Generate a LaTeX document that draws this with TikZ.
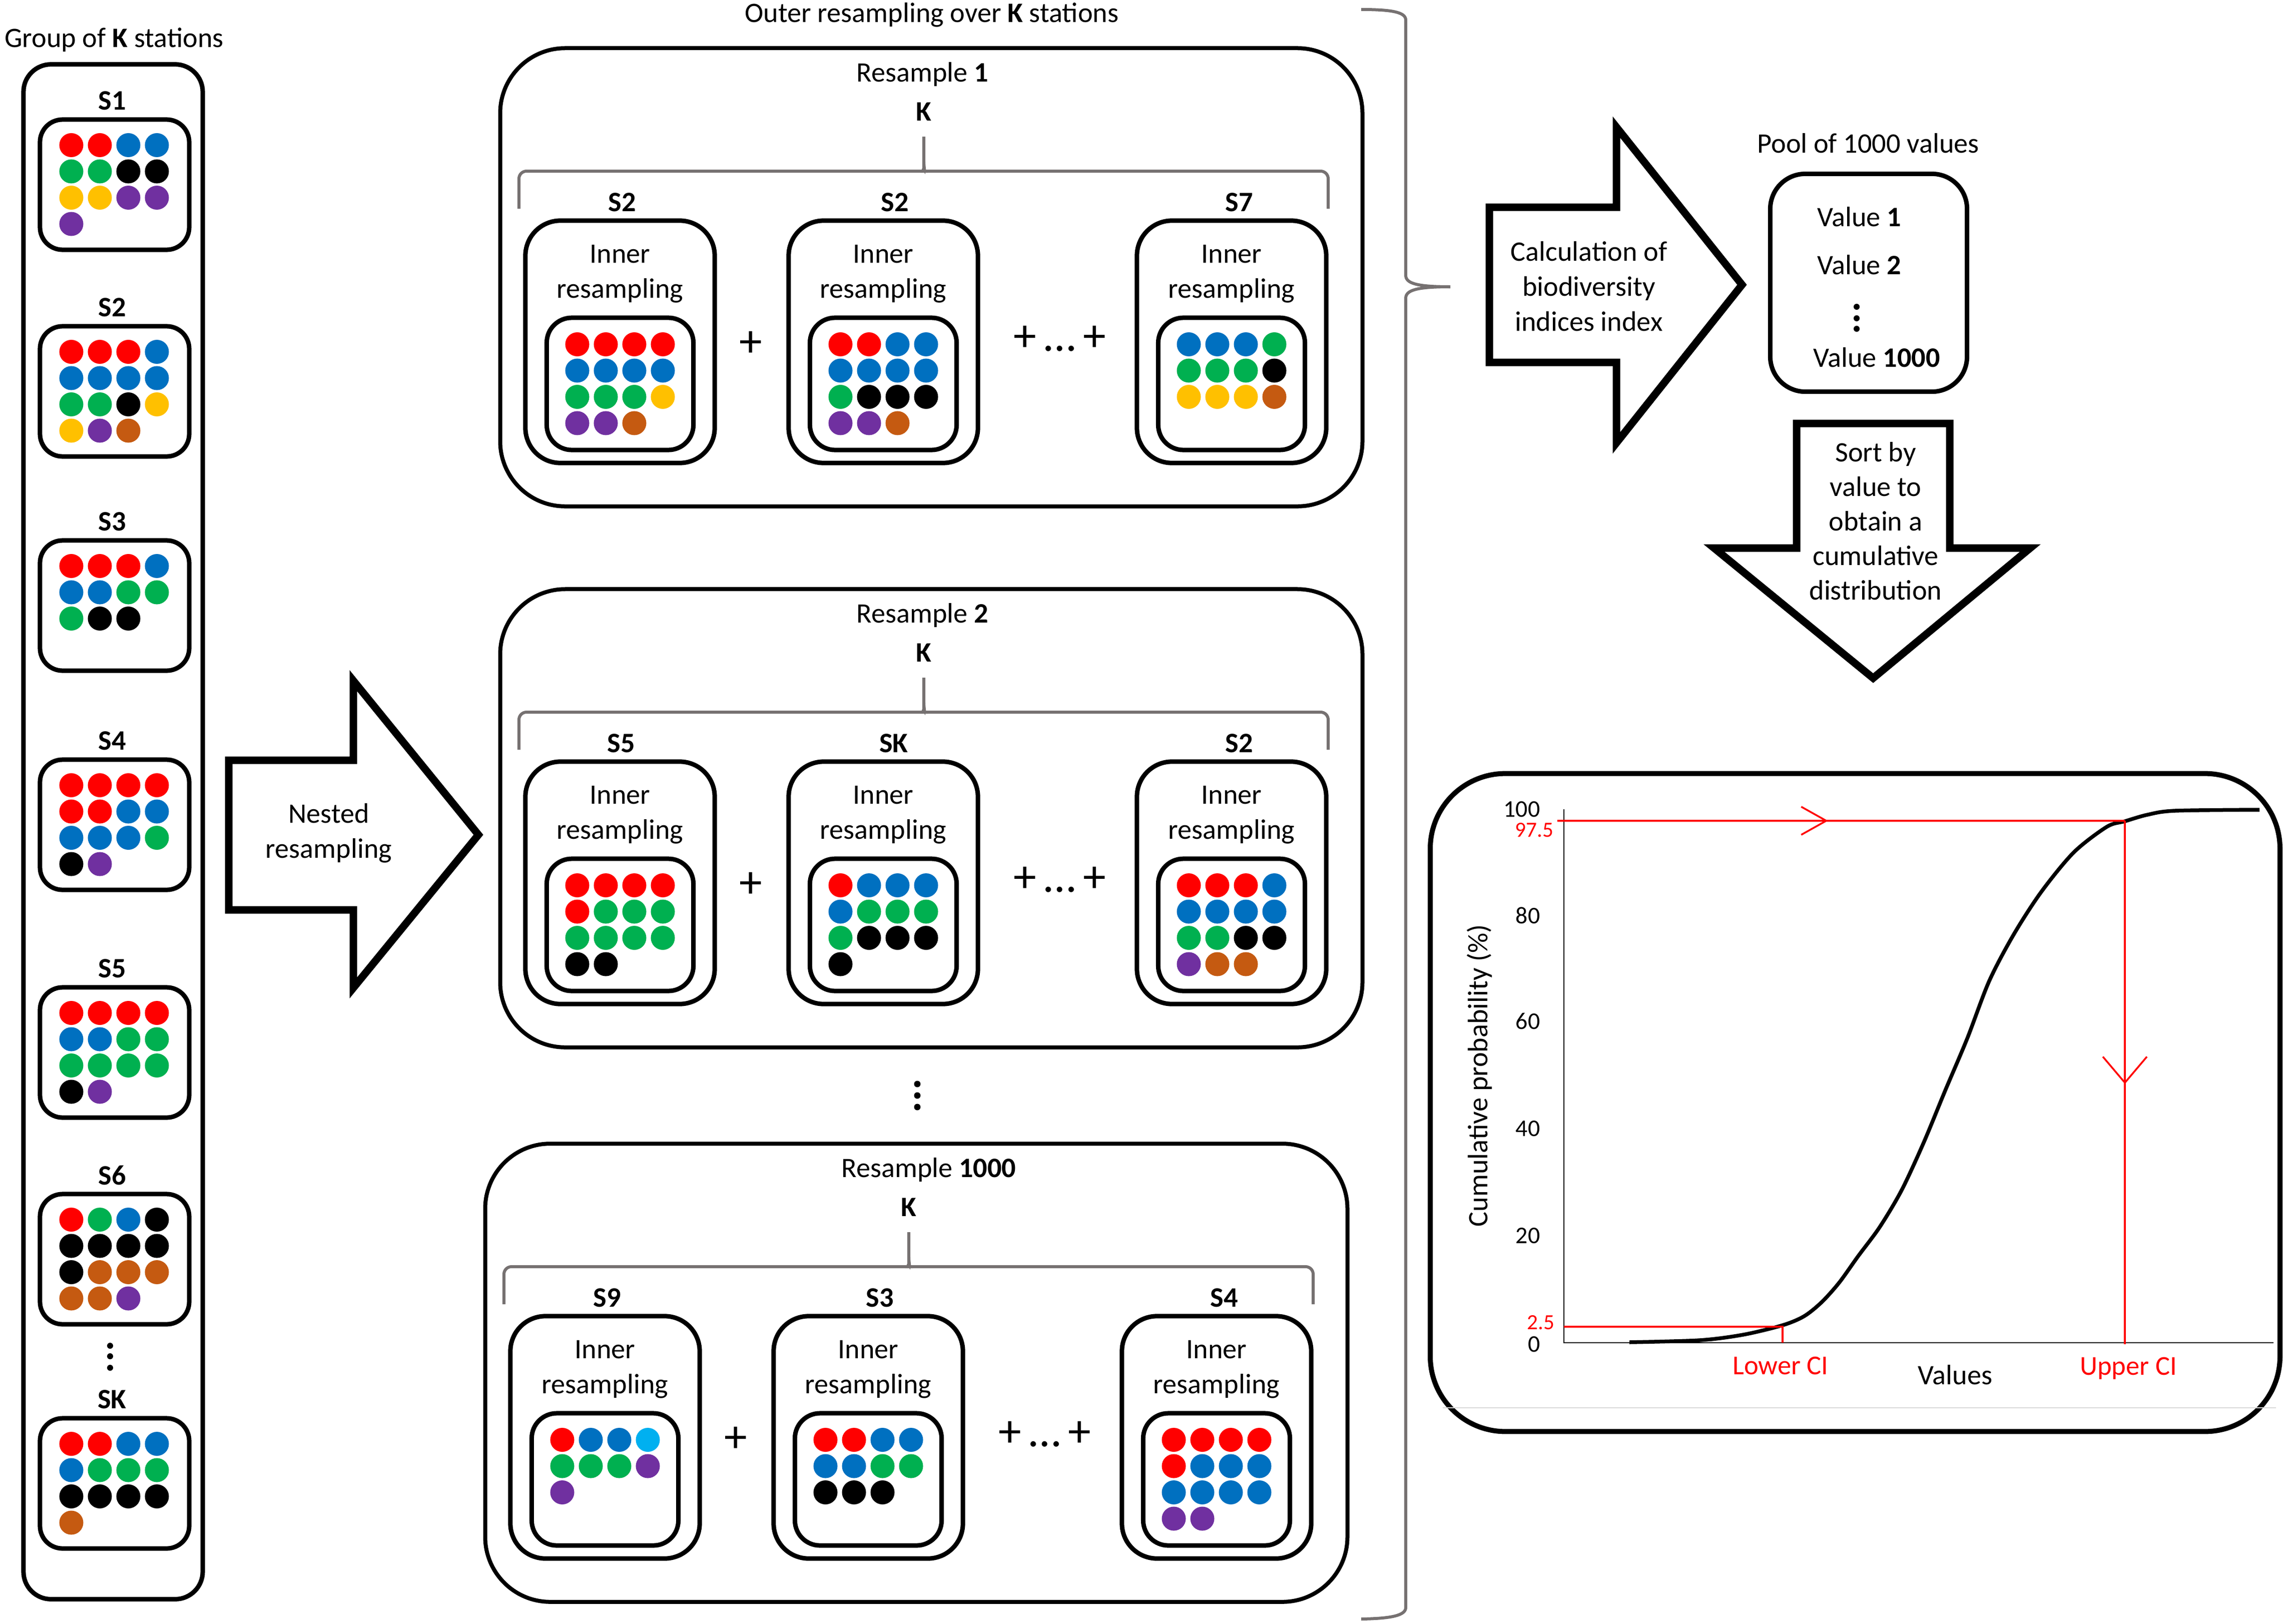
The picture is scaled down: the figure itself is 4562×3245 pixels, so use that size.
\documentclass[tikz,border=0pt]{standalone}
\usepackage{fontspec}
\setmainfont{Carlito}
\usetikzlibrary{arrows.meta,decorations.markings}

\definecolor{cR}{RGB}{255,0,0}
\definecolor{cB}{RGB}{0,112,192}
\definecolor{cG}{RGB}{0,176,80}
\definecolor{cK}{RGB}{0,0,0}
\definecolor{cY}{RGB}{255,192,0}
\definecolor{cP}{RGB}{112,48,160}
\definecolor{cO}{RGB}{197,90,17}
\definecolor{cL}{RGB}{0,176,240}
\definecolor{bracegray}{RGB}{118,113,113}
\definecolor{rulegray}{RGB}{217,217,217}

\tikzstyle{txt} = [inner sep=0pt, align=center, font={\fontsize{16}{20}\selectfont}]
\tikzstyle{lbl} = [inner sep=0pt, font={\fontsize{16}{20}\selectfont\bfseries}]
\tikzstyle{grpbox} = [draw, line width=0.09cm, rounded corners=0.55cm, minimum width=3.58cm, minimum height=30.65cm]
\tikzstyle{stbox} = [draw, line width=0.09cm, rounded corners=0.45cm, minimum width=2.98cm, minimum height=2.6cm]
\tikzstyle{resbox} = [draw, line width=0.08cm, rounded corners=1.3cm, minimum width=17.22cm, minimum height=9.15cm]
\tikzstyle{innerbox} = [draw, line width=0.09cm, rounded corners=0.7cm, minimum width=3.78cm, minimum height=4.84cm]
\tikzstyle{dotbox} = [draw, line width=0.09cm, rounded corners=0.5cm, minimum width=2.93cm, minimum height=2.64cm]
\tikzstyle{poolbox} = [draw, line width=0.09cm, rounded corners=0.7cm, minimum width=3.93cm, minimum height=4.35cm]
\tikzstyle{chartbox} = [draw, line width=0.1cm, rounded corners=1.5cm, minimum width=16.97cm, minimum height=13.14cm]
\tikzstyle{blockarrow} = [draw, line width=0.15cm, line join=miter]
\tikzstyle{brace} = [draw=bracegray, line width=0.06cm]
\tikzstyle{plus} = [inner sep=0pt, font={\fontsize{26}{30}\selectfont}]
\tikzstyle{tick} = [inner sep=0pt, anchor=east, font={\fontsize{13.6}{16}\selectfont}]
\tikzstyle{citick} = [inner sep=0pt, anchor=east, text=red, font={\fontsize{12.3}{14}\selectfont}]
\tikzstyle{cilbl} = [inner sep=0pt, text=red, font={\fontsize{15.5}{18}\selectfont}]
\tikzstyle{ci} = [draw=red, line width=0.035cm]
\tikzset{barbat/.style n args={3}{decoration={markings,
  mark=at position #1 with {\arrow{Straight Barb[length=#2, width=#3]}}}, postaction={decorate}}}

% 4 dots per row, centred on #1, first row at #2
\newcommand{\dotgrid}[3]{%
  \foreach \clr [count=\i from 0] in {#3} {
    \pgfmathtruncatemacro{\dcx}{mod(\i,4)}
    \pgfmathtruncatemacro{\dry}{\i/4}
    \fill[\clr] ({#1+(\dcx-1.5)*57},{#2+\dry*52.5}) circle[radius=0.24cm];
  }%
}
% one station of the group
\newcommand{\station}[4]{%
  \node[stbox] (#1) at (229,{#3+130}) {};
  \node[lbl] (#1lbl) at (224,{#3-38}) {#2};
  \dotgrid{228}{#3+51}{#4}%
}
% one inner resampling inside a resample
\newcommand{\innerres}[6]{%
  \node[innerbox] (#1) at (#2,{#4+586}) {};
  \node[lbl] (#1lbl) at (#3,{#4+307}) {#5};
  \node[txt] (#1txt) at (#2,{#4+450}) {Inner\\resampling};
  \node[dotbox] (#1dots) at (#2,{#4+670}) {};
  \dotgrid{#2}{#4+591}{#6}%
}
% frame, title, K and brace of a resample
\newcommand{\resample}[4]{%
  \node[resbox] (#1) at ({1861+(#3)},{#2+457}) {};
  \node[txt, anchor=west] (#1title) at ({1711+(#3)},{#2+51}) {#4};
  \node[lbl] (#1k) at ({1846+(#3)},{#2+126}) {K};
  \draw[brace, rounded corners=0.15cm] ({1037+(#3)},{#2+320}) -- ({1037+(#3)},{#2+245})
    -- ({1831+(#3)},{#2+245}) .. controls ({1843+(#3)},{#2+245}) and ({1846+(#3)},{#2+238})
    .. ({1846+(#3)},{#2+226}) -- ({1846+(#3)},{#2+176});
  \draw[brace, rounded corners=0.15cm] ({2654+(#3)},{#2+320}) -- ({2654+(#3)},{#2+245})
    -- ({1861+(#3)},{#2+245}) .. controls ({1849+(#3)},{#2+245}) and ({1846+(#3)},{#2+238})
    .. ({1846+(#3)},{#2+226});
  \node[plus] (#1plus) at ({1500+(#3)},{#2+590}) {+};
  \node[plus] (#1more) at ({2118+(#3)},{#2+580}) {+\,…\,+};
}

\begin{document}
\begin{tikzpicture}[x=0.01cm, y=-0.01cm]
  \useasboundingbox (0,0) rectangle (4562,3245);

  % group of stations
  \node[txt] (grouptitle) at (228,80) {Group of \textbf{K} stations};
  \node[grpbox] (group) at (226,1662) {};
  \station{s1}{S1}{239}{cR,cR,cB,cB,cG,cG,cK,cK,cY,cY,cP,cP,cP}
  \station{s2}{S2}{652}{cR,cR,cR,cB,cB,cB,cB,cB,cG,cG,cK,cY,cY,cP,cO}
  \station{s3}{S3}{1080}{cR,cR,cR,cB,cB,cB,cG,cG,cG,cK,cK}
  \station{s4}{S4}{1518}{cR,cR,cR,cR,cR,cR,cB,cB,cB,cB,cB,cG,cK,cP}
  \station{s5}{S5}{1973}{cR,cR,cR,cR,cB,cB,cG,cG,cG,cG,cG,cG,cK,cP}
  \station{s6}{S6}{2386}{cR,cG,cB,cK,cK,cK,cK,cK,cK,cO,cO,cO,cO,cO,cP}
  \foreach \yy in {2689,2710,2733} \fill (220,\yy) circle[radius=0.06cm];
  \station{sk}{SK}{2834}{cR,cR,cB,cB,cB,cG,cG,cG,cK,cK,cK,cK,cO}

  % nested resampling arrow
  \draw[blockarrow] (457,1519) -- (706,1519) -- (706,1360) -- (956,1668) -- (706,1974) -- (706,1818) -- (457,1818) -- cycle;
  \node[txt] (nested) at (657,1665) {Nested\\resampling};

  % outer resampling
  \node[txt] (outertitle) at (1862,30) {Outer resampling over \textbf{K} stations};
  \resample{ra}{97}{0}{Resample \textbf{1}}
  \innerres{raa}{1239}{1243}{97}{S2}{cR,cR,cR,cR,cB,cB,cB,cB,cG,cG,cG,cY,cP,cP,cO}
  \innerres{rab}{1765}{1788}{97}{S2}{cR,cR,cB,cB,cB,cB,cB,cB,cG,cK,cK,cK,cP,cP,cO}
  \innerres{rac}{2461}{2476}{97}{S7}{cB,cB,cB,cG,cG,cG,cG,cK,cY,cY,cY,cO}

  \resample{rb}{1178}{0}{Resample \textbf{2}}
  \innerres{rba}{1239}{1241}{1178}{S5}{cR,cR,cR,cR,cR,cG,cG,cG,cG,cG,cG,cG,cK,cK}
  \innerres{rbb}{1765}{1786}{1178}{SK}{cR,cB,cB,cB,cB,cG,cG,cG,cG,cK,cK,cK,cK}
  \innerres{rbc}{2461}{2476}{1178}{S2}{cR,cR,cR,cB,cB,cB,cB,cB,cG,cG,cK,cK,cP,cO,cO}

  \foreach \yy in {2166,2189,2212} \fill (1833,\yy) circle[radius=0.065cm];

  \resample{rk}{2286}{-30}{Resample \textbf{1000}}
  \innerres{rka}{1209}{1213}{2286}{S9}{cR,cB,cB,cL,cG,cG,cG,cP,cP}
  \innerres{rkb}{1735}{1758}{2286}{S3}{cR,cR,cB,cB,cB,cB,cG,cG,cK,cK,cK}
  \innerres{rkc}{2431}{2446}{2286}{S4}{cR,cR,cR,cR,cR,cB,cB,cB,cB,cB,cB,cB,cP,cP}

  % big brace round all resamples
  \draw[brace] (2720,19) .. controls (2780,19) and (2809,24) .. (2809,40) -- (2809,550)
    .. controls (2809,566) and (2830,573) .. (2898,573);
  \draw[brace] (2898,573) .. controls (2830,573) and (2809,580) .. (2809,596) -- (2809,3212)
    .. controls (2809,3228) and (2780,3234) .. (2720,3235);

  % index calculation and pool
  \draw[blockarrow] (2976,414) -- (3230,414) -- (3230,254) -- (3481,569) -- (3230,885) -- (3230,724) -- (2976,724) -- cycle;
  \node[txt] (calc) at (3175,572) {Calculation of\\biodiversity\\indices index};
  \node[txt] (pooltitle) at (3733,286) {Pool of 1000 values};
  \node[poolbox] (pool) at (3734,565) {};
  \node[txt, anchor=west] (v1) at (3631,433) {Value \textbf{1}};
  \node[txt, anchor=west] (v2) at (3631,529) {Value \textbf{2}};
  \foreach \yy in {613,636,657} \fill (3710,\yy) circle[radius=0.06cm];
  \node[txt, anchor=west] (v1000) at (3623,714) {Value \textbf{1000}};

  \draw[blockarrow] (3590,846) -- (3896,846) -- (3896,1095) -- (4057,1095) -- (3743,1355) -- (3425,1095) -- (3590,1095) -- cycle;
  \node[txt, font={\fontsize{16}{19.6}\selectfont}] (sort) at (3748,1041) {Sort by\\value to\\obtain a\\cumulative\\distribution};

  % cumulative distribution
  \node[chartbox] (chart) at (3707,2203) {};
  \draw[rulegray, line width=0.02cm] (2883,2813) -- (4548,2813);
  \coordinate (o) at (3125,2683);
  \coordinate (ytop) at (3125,1617);
  \coordinate (xend) at (4543,2683);
  \draw[line width=0.025cm] (ytop) -- (o) -- (xend);
  \foreach \v/\yy in {100/1617,80/1829,60/2041,40/2255,20/2469,0/2686}
    \node[tick] (t\v) at (3078,\yy) {\v};
  \node[txt, rotate=90] (ylabel) at (2956,2149) {Cumulative probability (\%)};
  \node[txt] (xlabel) at (3907,2747) {Values};
  \draw[line width=0.075cm, line join=round] plot[smooth, tension=0.5] coordinates {
    (3256,2682) (3396,2678) (3483,2667) (3562,2648) (3605,2630) (3640,2602)
    (3675,2563) (3713,2510) (3756,2452) (3800,2378) (3844,2283) (3887,2179)
    (3931,2075) (3975,1960) (4024,1867) (4079,1782) (4144,1703) (4210,1652)
    (4246,1641) (4291,1628) (4346,1620) (4515,1618)};

  % confidence interval
  \coordinate (hi0) at (3112,1640);
  \coordinate (hi1) at (4246,1640);
  \coordinate (hi2) at (4246,2686);
  \draw[ci, barbat={0.477}{0.5cm}{0.56cm}] (hi0) -- (hi1);
  \draw[ci, barbat={0.503}{0.52cm}{0.88cm}] (hi1) -- (hi2);
  \coordinate (lo0) at (3125,2651);
  \coordinate (lo1) at (3562,2651);
  \coordinate (lo2) at (3562,2683);
  \draw[ci] (lo0) -- (lo1) -- (lo2);
  \node[citick] (t975) at (3105,1659) {97.5};
  \node[citick] (t25) at (3107,2643) {2.5};
  \node[cilbl] (lowci) at (3558,2729) {Lower CI};
  \node[cilbl] (upci) at (4253,2734) {Upper CI};
\end{tikzpicture}
\end{document}
